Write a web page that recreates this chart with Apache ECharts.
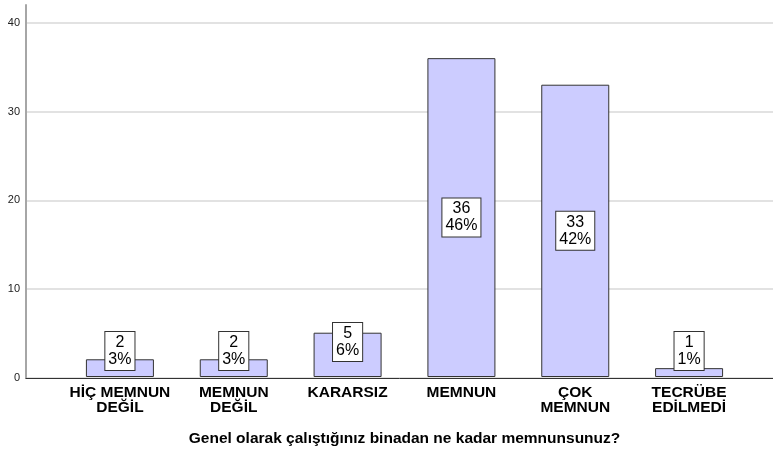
<!DOCTYPE html>
<html>
<head>
<meta charset="utf-8">
<script src="https://cdn.jsdelivr.net/npm/echarts@6/dist/echarts.min.js"></script>
<style>
  html, body { margin: 0; padding: 0; background: #fff; }
  #chart { width: 773px; height: 452px; }
</style>
</head>
<body>
<div id="chart"></div>
<script>
// Responses to the satisfaction question
const categories = ['HİÇ MEMNUN\nDEĞİL', 'MEMNUN\nDEĞİL', 'KARARSIZ', 'MEMNUN', 'ÇOK\nMEMNUN', 'TECRÜBE\nEDİLMEDİ'];
const counts = [2, 2, 5, 36, 33, 1];
const yTicks = [0, 10, 20, 30, 40];
const axisTitle = 'Genel olarak çalıştığınız binadan ne kadar memnunsunuz?';

const total = counts.reduce((a, b) => a + b, 0);
const FONT = 'Liberation Sans, Arial, sans-serif';
const Y_MAX = 42;

const chart = echarts.init(document.getElementById('chart'), null, { renderer: 'canvas' });

// short bars carry their label near the baseline, tall bars in the middle
const barData = counts.map(v => ({
  value: v,
  label: v < 10
    ? { position: 'insideBottom', distance: v >= 5 ? 16 : 7 }
    : { position: 'inside' }
}));

chart.setOption({
  animation: false,
  backgroundColor: '#ffffff',
  grid: [
    // frame: axis lines and gridlines spanning the full width
    { left: 26, right: 0, top: 5, bottom: 74, containLabel: false },
    // bars, centred inside the frame
    { left: 63, right: 27, top: 5, bottom: 74, containLabel: false }
  ],
  xAxis: [
    {
      gridIndex: 0, type: 'value', min: 0, max: 1,
      axisLine: { show: true, onZero: false, lineStyle: { color: '#333', width: 1 } },
      axisTick: { show: false }, axisLabel: { show: false }, splitLine: { show: false }
    },
    {
      gridIndex: 1, type: 'category', data: categories,
      axisLine: { show: false }, axisTick: { show: false },
      axisLabel: {
        interval: 0, margin: 8, color: '#000', fontFamily: FONT,
        fontSize: 15.5, fontWeight: 'bold', lineHeight: 15
      },
      name: axisTitle, nameLocation: 'middle', nameGap: 54,
      nameTextStyle: { color: '#000', fontFamily: FONT, fontSize: 15.5, fontWeight: 'bold' }
    }
  ],
  yAxis: [
    {
      gridIndex: 0, type: 'value', min: 0, max: Y_MAX, interval: 10,
      axisLine: { show: true, lineStyle: { color: '#a6a6a6', width: 2 } },
      axisTick: { show: false },
      axisLabel: {
        color: '#222', fontFamily: FONT, fontSize: 11, margin: 6,
        showMaxLabel: false,
        formatter: v => (yTicks.includes(v) ? String(v) : '')
      },
      splitLine: { show: true, showMaxLine: false, lineStyle: { color: '#d9d9d9', width: 1.5 } }
    },
    {
      gridIndex: 1, type: 'value', min: 0, max: Y_MAX, interval: 10,
      show: false, splitLine: { show: false }
    }
  ],
  series: [
    {
      type: 'bar',
      xAxisIndex: 1, yAxisIndex: 1,
      data: barData,
      barWidth: 68,
      itemStyle: { color: '#ccccff', borderColor: '#333', borderWidth: 1 },
      label: {
        show: true,
        formatter: p => p.value + '\n' + Math.round(p.value / total * 100) + '%',
        color: '#000', fontFamily: FONT, fontSize: 16, lineHeight: 17,
        backgroundColor: '#fff', borderColor: '#333', borderWidth: 1,
        padding: [2, 3, 2, 3], align: 'center'
      }
    }
  ]
});
</script>
</body>
</html>
